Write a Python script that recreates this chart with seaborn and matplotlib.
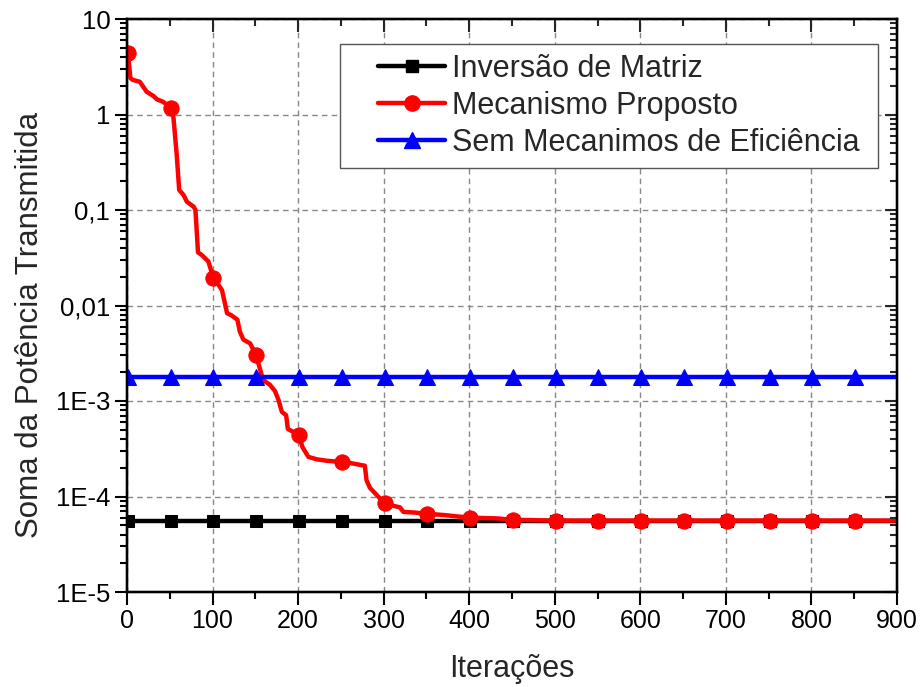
import numpy as np
import pandas as pd
import matplotlib
matplotlib.use("Agg")
import matplotlib.pyplot as plt
import seaborn as sns
from matplotlib.lines import Line2D
from matplotlib.legend_handler import HandlerLine2D
from matplotlib.ticker import LogLocator, MultipleLocator, NullFormatter

# ---------------- data ----------------
series_names = ["Inversão de Matriz", "Mecanismo Proposto", "Sem Mecanimos de Eficiência"]

marker_iters = [1, 51, 101, 151, 201, 251, 301, 351, 401, 451, 501, 551, 601, 651, 701, 751, 801, 851]

matriz_iter = [1, 51, 101, 151, 201, 251, 301, 351, 401, 451, 501, 551, 601, 651, 701, 751, 801, 851, 900]
matriz_val = [5.6e-5, 5.6e-5, 5.6e-5, 5.6e-5, 5.6e-5, 5.6e-5, 5.6e-5, 5.6e-5, 5.6e-5, 5.6e-5,
              5.6e-5, 5.6e-5, 5.6e-5, 5.6e-5, 5.6e-5, 5.6e-5, 5.6e-5, 5.6e-5, 5.6e-5]

sem_iter = [1, 51, 101, 151, 201, 251, 301, 351, 401, 451, 501, 551, 601, 651, 701, 751, 801, 851, 900]
sem_val = [1.8e-3, 1.8e-3, 1.8e-3, 1.8e-3, 1.8e-3, 1.8e-3, 1.8e-3, 1.8e-3, 1.8e-3, 1.8e-3,
           1.8e-3, 1.8e-3, 1.8e-3, 1.8e-3, 1.8e-3, 1.8e-3, 1.8e-3, 1.8e-3, 1.8e-3]

prop_iter = [1, 4, 7, 15, 19, 23, 31, 35, 42, 51, 54, 58, 61, 66, 70, 78, 80, 83, 87, 95,
             101, 107, 111, 117, 122, 129, 132, 136, 144, 151, 159, 167, 173, 177, 181, 186, 188,
             201, 205, 212, 222, 233, 251, 261, 278, 280, 284, 290, 301, 311, 319, 323, 335,
             351, 370, 385, 401, 432, 451, 501, 551, 601, 651, 701, 751, 801, 851, 900]
prop_val = [4.4, 2.4, 2.3, 2.2, 1.95, 1.73, 1.56, 1.44, 1.36, 1.18, 0.99, 0.39, 0.162, 0.144, 0.122, 0.108, 0.1, 0.036, 0.034, 0.029,
            0.0195, 0.0164, 0.0145, 0.0083, 0.0079, 0.0071, 0.0053, 0.0044, 0.0040, 0.0030, 0.00166, 0.00148, 0.00127, 0.00103, 7.7e-4, 7.1e-4, 5.1e-4,
            4.4e-4, 3.3e-4, 2.6e-4, 2.45e-4, 2.37e-4, 2.3e-4, 2.24e-4, 2.1e-4, 1.48e-4, 1.23e-4, 1.08e-4, 8.5e-5, 8.0e-5, 7.7e-5, 6.9e-5, 6.8e-5,
            6.6e-5, 6.4e-5, 6.2e-5, 6.0e-5, 5.9e-5, 5.7e-5, 5.6e-5, 5.6e-5, 5.6e-5, 5.6e-5, 5.6e-5, 5.6e-5, 5.6e-5, 5.6e-5, 5.6e-5]

x_ticks = [0, 100, 200, 300, 400, 500, 600, 700, 800, 900]
y_ticks = [1e-5, 1e-4, 1e-3, 1e-2, 1e-1, 1, 10]
y_tick_labels = ["1E-5", "1E-4", "1E-3", "0,01", "0,1", "1", "10"]

x_label = "Iterações"
y_label = "Soma da Potência Transmitida"

# ---------------- style ----------------
sns.set_style("ticks")
plt.rcParams["font.family"] = ["Liberation Sans", "DejaVu Sans"]
plt.rcParams["axes.linewidth"] = 1.6

fig = plt.figure(figsize=(9.21, 6.87), dpi=100)
ax = fig.add_axes([127 / 921, 1 - 592 / 687, 770 / 921, 573 / 687])

df_m = pd.DataFrame({"it": matriz_iter, "v": matriz_val})
df_p = pd.DataFrame({"it": prop_iter, "v": prop_val})
df_s = pd.DataFrame({"it": sem_iter, "v": sem_val})

idx_m = [matriz_iter.index(m) for m in marker_iters]
idx_p = [prop_iter.index(m) for m in marker_iters]
idx_s = [sem_iter.index(m) for m in marker_iters]

lw = 3.2
sns.lineplot(data=df_m, x="it", y="v", ax=ax, color="black", lw=lw, marker="s", ms=9,
             mec="black", markevery=idx_m, legend=False, zorder=3)
sns.lineplot(data=df_p, x="it", y="v", ax=ax, color="#ff0000", lw=lw, marker="o", ms=11,
             mec="#ff0000", markevery=idx_p, legend=False, zorder=4)
sns.lineplot(data=df_s, x="it", y="v", ax=ax, color="#0000ff", lw=lw, marker="^", ms=12,
             mec="#0000ff", markevery=idx_s, legend=False, zorder=5)

ax.set_yscale("log")
ax.set_xlim(0, 900)
ax.set_ylim(1e-5, 10)
ax.set_xticks(x_ticks)
ax.set_xticklabels([str(t) for t in x_ticks])
ax.xaxis.set_minor_locator(MultipleLocator(50))
ax.set_yticks(y_ticks)
ax.set_yticklabels(y_tick_labels)
ax.yaxis.set_minor_locator(LogLocator(base=10, subs=np.arange(2, 10)))
ax.yaxis.set_minor_formatter(NullFormatter())

ax.tick_params(which="both", direction="out", top=False, right=False, width=1.5,
               pad=3, colors="black")
ax.tick_params(axis="y", labelsize=18.5)
ax.tick_params(axis="x", labelsize=18)
ax.tick_params(which="major", length=9)
ax.tick_params(which="minor", length=5)

ax.grid(True, which="major", color="#888888", lw=1.0, ls=(0, (4, 3)))
ax.set_axisbelow(True)

ax.set_xlabel(x_label, fontsize=22, labelpad=15)
ax.set_ylabel(y_label, fontsize=22.5)
ax.yaxis.set_label_coords(-0.107, 0.466)

# mirrored axes with inward ticks (right and top)
ax_r = ax.twinx()
ax_r.set_yscale("log")
ax_r.set_ylim(1e-5, 10)
ax_r.set_yticks(y_ticks)
ax_r.yaxis.set_minor_locator(LogLocator(base=10, subs=np.arange(2, 10)))
ax_r.yaxis.set_minor_formatter(NullFormatter())
ax_r.tick_params(which="both", direction="in", labelright=False, width=1.5)
ax_r.tick_params(which="major", length=9)
ax_r.tick_params(which="minor", length=5)

ax_t = ax.twiny()
ax_t.set_xlim(0, 900)
ax_t.set_xticks(x_ticks)
ax_t.xaxis.set_minor_locator(MultipleLocator(50))
ax_t.tick_params(which="both", direction="in", labeltop=False, width=1.5)
ax_t.tick_params(which="major", length=9)
ax_t.tick_params(which="minor", length=5)

for a in (ax, ax_r, ax_t):
    for s in a.spines.values():
        s.set_linewidth(1.6)
        s.set_color("black")

handles = [
    Line2D([], [], color="black", lw=lw, marker="s", ms=9),
    Line2D([], [], color="#ff0000", lw=lw, marker="o", ms=11),
    Line2D([], [], color="#0000ff", lw=lw, marker="^", ms=12),
]
x0 = (340 - 127) / 770
x1 = (878 - 127) / 770
ytop = 1 - (44 - 19) / 573
leg = ax_t.legend(handles, series_names, loc="upper left",
                  bbox_to_anchor=(x0, ytop - 0.3, x1 - x0, 0.3), mode="expand",
                  borderaxespad=0, fontsize=22, frameon=True, fancybox=False,
                  framealpha=1, edgecolor="#555555", borderpad=0.32,
                  labelspacing=0.23, handlelength=3.12, handletextpad=0.23,
                  handler_map={Line2D: HandlerLine2D(xpad=0.93)})
leg.get_frame().set_linewidth(1.0)

fig.savefig("out.png", dpi=100)
